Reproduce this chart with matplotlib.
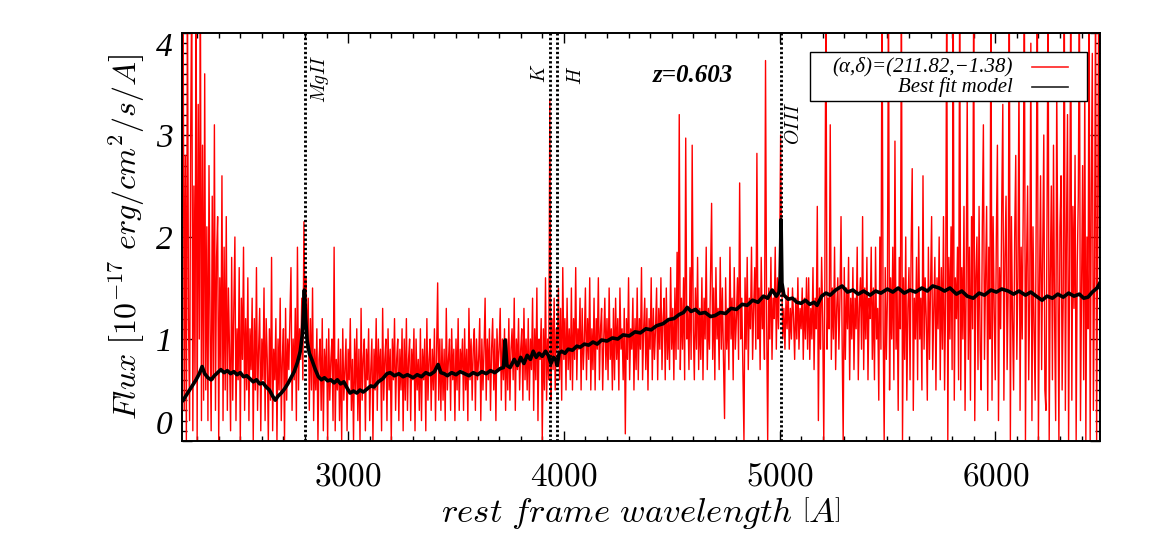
import numpy as np
import matplotlib
matplotlib.use("Agg")
import matplotlib.pyplot as plt
from matplotlib.ticker import MultipleLocator, FuncFormatter
from matplotlib.patches import Rectangle

plt.rcParams['mathtext.fontset'] = 'cm'
plt.rcParams['font.family'] = ['DejaVu Serif']

# espectro observado (rojo), leido de la figura cada 5 A desde 2235 A
# (una fila = 100 A)
flux = [
    4.5, 0.3, 2.8, 0.0, 4.5, 1.2, 0.2, 3.0, 4.5, 0.1, 2.5, 0.6, 4.5, 0.0, 3.3, 1.0, 4.5, 0.2, 2.9, 0.4,
    3.6, 0.5, 2.1, 0.2, 2.7, 1.1, 0.1, 2.4, 0.6, 3.1, 0.3, 1.8, 2.2, 0.0, 1.6, 0.7, 2.6, 0.2, 1.9, 0.5,
    2.2, 0.3, 1.5, 0.9, 0.1, 1.8, 0.4, 1.3, 2.0, 0.2, 1.1, 0.6, 1.7, 0.0, 1.4, 0.8, 1.9, 0.3, 1.2, 0.5,
    1.6, 0.2, 1.1, 0.7, 1.4, 0.0, 1.2, 0.5, 1.7, 0.3, 0.9, 1.3, 0.1, 1.0, 0.6, 1.5, 0.2, 1.2, 0.8, 0.0,
    1.1, 0.4, 1.8, 0.1, 0.9, 0.6, 1.2, 0.0, 1.0, 0.5, 1.4, 0.2, 0.8, 1.1, 0.0, 1.3, 0.4, 1.0, 0.7, 1.2,
    1.7, 0.3, 1.0, 0.6, 1.3, 0.2, 1.9, 0.5, 1.1, 0.8, 1.4, 0.6, 2.15, 1.2, 1.6, 0.9, 1.4, 0.3, 1.2, 0.5,
    1.5, 0.2, 0.9, 0.5, 1.1, 0.0, 0.8, 1.0, 0.3, 1.2, 0.1, 0.9, 0.6, 1.0, 0.0, 1.1, 0.4, 0.8, 1.0, 0.2,
    1.9, 0.1, 0.8, 0.5, 1.0, 0.2, 0.9, 0.0, 1.1, 0.4, 0.7, 1.0, 0.1, 0.9, 0.6, 1.2, 0.3, 0.8, 0.0, 1.0,
    0.5, 1.1, 0.2, 0.9, 0.0, 1.3, 0.4, 0.8, 1.0, 0.1, 0.9, 0.6, 1.1, 0.2, 0.7, 1.0, 0.0, 0.9, 0.5, 1.2,
    0.3, 1.0, 0.6, 0.9, 0.1, 1.3, 0.4, 0.8, 1.0, 0.2, 1.1, 0.5, 0.9, 0.0, 1.0, 0.6, 1.2, 0.3, 0.8, 1.0,
    0.2, 0.9, 0.5, 1.1, 0.1, 1.0, 0.4, 1.2, 0.3, 0.8, 1.0, 0.2, 0.9, 0.6, 1.1, 0.1, 1.0, 0.5, 0.8, 0.3,
    1.1, 0.2, 0.9, 0.6, 1.0, 0.1, 1.2, 0.4, 0.8, 1.0, 0.3, 0.9, 0.5, 1.1, 0.2, 0.9, 1.55, 0.4, 1.0, 0.3,
    1.0, 0.4, 0.9, 0.2, 1.3, 0.5, 0.8, 1.0, 0.3, 1.1, 0.6, 0.9, 0.2, 1.0, 0.5, 1.2, 0.3, 0.9, 0.7, 1.0,
    0.3, 1.1, 0.5, 0.9, 0.2, 1.3, 0.6, 1.0, 0.4, 0.9, 1.1, 0.3, 1.0, 0.6, 0.8, 1.2, 0.2, 1.0, 0.5, 0.9,
    1.4, 0.4, 1.0, 0.6, 1.1, 0.3, 0.9, 1.2, 0.5, 1.0, 0.2, 1.1, 0.7, 0.9, 1.3, 0.4, 1.0, 0.6, 1.1, 0.3,
    1.0, 0.5, 1.2, 0.4, 0.9, 1.1, 0.6, 1.4, 0.3, 1.0, 0.7, 1.2, 0.5, 0.9, 1.1, 0.4, 1.3, 0.6, 1.0, 0.5,
    1.2, 0.4, 1.0, 0.7, 1.4, 0.3, 1.1, 0.6, 1.5, 0.2, 1.0, 0.8, 1.2, 0.0, 1.1, 0.5, 1.6, 0.4, 1.0, 0.6,
    3.35, 0.4, 1.2, 0.7, 1.4, 0.5, 1.1, 0.9, 1.5, 0.6, 1.3, 0.4, 1.7, 0.8, 1.2, 0.5, 1.4, 0.7, 1.1, 0.6,
    1.5, 0.5, 1.2, 0.8, 1.7, 0.6, 1.1, 0.9, 1.4, 0.5, 1.3, 0.7, 1.0, 1.5, 0.6, 1.2, 0.8, 1.6, 0.5, 1.1,
    0.7, 1.4, 0.5, 1.2, 0.9, 1.6, 0.6, 1.1, 1.3, 0.5, 1.0, 1.4, 0.7, 1.2, 0.6, 1.5, 0.8, 1.1, 0.5, 1.3,
    0.6, 1.4, 0.8, 1.2, 0.5, 1.5, 0.9, 1.1, 0.6, 1.3, 0.07, 1.2, 0.8, 1.6, 0.6, 1.1, 0.9, 1.4, 0.5, 1.2,
    0.7, 1.5, 0.6, 1.2, 0.9, 1.7, 0.6, 1.1, 1.4, 0.7, 1.3, 0.5, 1.2, 0.9, 1.6, 0.6, 1.3, 0.8, 1.1, 1.5,
    0.6, 1.3, 0.9, 1.6, 0.7, 1.2, 1.4, 0.6, 1.5, 0.8, 1.2, 0.7, 1.7, 0.9, 1.3, 0.6, 1.5, 0.8, 1.85, 0.9,
    3.2, 0.7, 1.4, 0.9, 1.6, 0.6, 2.97, 1.0, 1.3, 0.7, 1.7, 0.8, 2.9, 1.1, 0.6, 1.5, 0.9, 1.8, 0.7, 1.3,
    0.8, 1.6, 0.6, 1.4, 1.0, 1.9, 0.7, 1.3, 0.9, 1.6, 2.33, 0.8, 1.5, 0.6, 1.7, 1.0, 1.3, 0.7, 1.8, 0.9,
    1.5, 0.8, 0.22, 1.6, 0.9, 1.3, 0.7, 1.9, 1.0, 1.4, 0.6, 1.7, 0.9, 1.2, 1.6, 0.8, 2.53, 1.0, 1.4, 0.7,
    0.0, 1.6, 0.9, 1.8, 0.7, 1.4, 1.1, 1.9, 0.8, 1.3, 1.7, 0.9, 2.82, 1.0, 1.5, 0.7, 1.8, 1.1, 1.4, 0.8,
    3.73, 1.2, 0.0, 1.5, 1.0, 1.8, 0.8, 1.4, 1.2, 1.9, 0.9, 1.6, 1.1, 1.7, 3.0, 1.6, 1.0, 1.3, 0.9, 1.4,
    1.1, 1.5, 0.9, 1.3, 1.0, 1.5, 1.2, 0.8, 1.4, 1.0, 1.6, 0.9, 1.3, 1.1, 1.5, 0.8, 1.4, 1.0, 1.6, 0.9,
    1.6, 0.8, 1.3, 1.0, 1.7, 0.7, 1.4, 1.1, 2.3, 0.2, 1.5, 0.9, 1.8, 1.2, 0.0, 1.6, 4.5, 0.9, 1.4, 1.1,
    3.1, 0.8, 1.5, 1.0, 1.9, 0.7, 1.3, 1.6, 0.9, 1.4, 2.2, 1.0, 0.0, 1.7, 0.8, 1.5, 1.1, 1.8, 0.6, 1.4,
    1.0, 1.7, 0.7, 1.4, 1.1, 1.9, 0.6, 1.3, 1.6, 0.9, 2.2, 0.7, 1.5, 1.0, 1.8, 0.6, 1.4, 1.2, 1.9, 0.8,
    1.5, 0.6, 1.9, 1.0, 1.3, 0.4, 2.0, 0.9, 4.5, 1.2, 0.0, 1.7, 0.8, 1.4, 4.5, 0.5, 1.6, 1.0, 1.9, 0.6,
    2.94, 0.9, 1.5, 0.3, 1.8, 1.1, 4.5, 0.0, 1.6, 0.8, 2.0, 0.4, 1.3, 1.7, 0.6, 1.9, 2.67, 0.3, 1.4, 1.0,
    1.8, 0.6, 2.1, 1.0, 1.4, 0.5, 2.6, 0.9, 1.6, 1.2, 0.4, 1.9, 0.8, 1.5, 2.2, 0.7, 1.3, 1.8, 0.5, 1.6,
    1.1, 2.0, 0.6, 1.7, 0.9, 2.2, 0.5, 1.4, 4.5, 0.0, 1.8, 1.0, 2.1, 0.7, 4.5, 0.4, 1.6, 1.2, 1.9, 0.6,
    4.5, 0.5, 1.7, 1.0, 2.3, 0.3, 1.5, 3.4, 0.8, 1.9, 0.4, 2.2, 1.1, 4.5, 0.2, 1.6, 2.0, 0.7, 2.3, 0.9,
    0.5, 2.1, 3.1, 0.8, 1.6, 2.3, 0.3, 1.9, 1.0, 4.5, 0.4, 2.2, 1.3, 0.6, 2.0, 2.9, 0.2, 1.7, 1.1, 2.3,
    3.3, 0.4, 1.8, 2.4, 0.7, 1.5, 4.5, 0.0, 2.2, 1.2, 0.5, 2.0, 2.8, 0.8, 1.6, 3.6, 0.3, 1.9, 1.0, 2.4,
    4.5, 0.0, 1.7, 2.5, 0.6, 1.4, 3.9, 0.2, 2.1, 1.1, 0.4, 2.3, 4.5, 0.0, 1.5, 2.6, 0.7, 1.9, 3.0, 0.5,
    0.3, 2.2, 4.5, 0.0, 1.6, 2.5, 0.6, 2.9, 1.2, 0.2, 3.5, 1.8, 0.0, 2.1, 2.6, 0.5, 1.4, 4.5, 0.3, 2.0,
    3.2, 0.0, 1.8, 4.5, 0.4, 2.3, 1.3, 2.8, 0.0, 1.7, 2.4, 4.5, 0.2, 1.5, 2.7, 0.6, 3.6, 0.0, 2.0, 1.1,
    4.5, 0.0, 2.4, 3.8, 0.3, 1.6, 4.5, 0.0, 2.2, 4.5, 0.5,
]
wave = 2235 + 5 * np.arange(len(flux))

# modelo de mejor ajuste (negro)
model_wave = [
    2235, 2250, 2265, 2280, 2295, 2310, 2323, 2335, 2350, 2365,
    2380, 2395, 2410, 2425, 2440, 2455, 2470, 2485, 2500, 2515,
    2530, 2545, 2560, 2575, 2590, 2605, 2620, 2635, 2650, 2662,
    2675, 2690, 2705, 2720, 2735, 2750, 2765, 2778, 2788, 2797,
    2803, 2810, 2820, 2833, 2848, 2862, 2876, 2890, 2905, 2920,
    2935, 2950, 2965, 2980, 2995, 3009, 3025, 3040, 3055, 3070,
    3088, 3105, 3120, 3140, 3160, 3180, 3195, 3215, 3235, 3255,
    3275, 3301, 3320, 3340, 3360, 3380, 3400, 3417, 3430, 3445,
    3460, 3480, 3500, 3520, 3540, 3560, 3580, 3600, 3620, 3640,
    3660, 3680, 3705, 3720, 3728, 3736, 3751, 3770, 3785, 3800,
    3815, 3830, 3845, 3858, 3872, 3885, 3900, 3915, 3928, 3940,
    3952, 3962, 3969, 3978, 3990, 4005, 4020, 4040, 4060, 4076,
    4095, 4115, 4135, 4155, 4175, 4200, 4225, 4250, 4275, 4303,
    4330, 4355, 4380, 4405, 4430, 4460, 4485, 4510, 4535, 4555,
    4572, 4590, 4610, 4630, 4655, 4680, 4701, 4725, 4750, 4775,
    4800, 4827, 4850, 4875, 4900, 4925, 4945, 4966, 4985, 4998,
    5003, 5007, 5011, 5020, 5040, 5060, 5080, 5100, 5120, 5140,
    5160, 5174, 5195, 5215, 5235, 5260, 5290, 5315, 5340, 5365,
    5390, 5420, 5445, 5470, 5500, 5525, 5550, 5578, 5605, 5630,
    5660, 5685, 5710, 5740, 5765, 5790, 5820, 5845, 5870, 5898,
    5925, 5950, 5980, 6005, 6030, 6060, 6085, 6110, 6140, 6165,
    6190, 6217, 6240, 6265, 6290, 6315, 6340, 6365, 6390, 6410,
    6430, 6450, 6472, 6485,
]
model_flux = [
    0.40, 0.45, 0.50, 0.55, 0.60, 0.66, 0.73, 0.66, 0.62, 0.60,
    0.64, 0.67, 0.70, 0.67, 0.69, 0.66, 0.68, 0.65, 0.67, 0.63,
    0.64, 0.61, 0.58, 0.60, 0.56, 0.57, 0.53, 0.50, 0.44, 0.40,
    0.44, 0.47, 0.51, 0.56, 0.62, 0.68, 0.77, 0.88, 1.05, 1.48,
    1.20, 0.98, 0.86, 0.79, 0.70, 0.63, 0.60, 0.62, 0.59, 0.60,
    0.57, 0.60, 0.56, 0.58, 0.52, 0.47, 0.49, 0.47, 0.50, 0.48,
    0.51, 0.54, 0.53, 0.58, 0.61, 0.66, 0.67, 0.64, 0.66, 0.63,
    0.65, 0.62, 0.65, 0.63, 0.67, 0.65, 0.68, 0.75, 0.67, 0.66,
    0.64, 0.67, 0.65, 0.68, 0.66, 0.64, 0.67, 0.65, 0.68, 0.66,
    0.69, 0.67, 0.71, 0.72, 0.99, 0.74, 0.72, 0.80, 0.74, 0.82,
    0.76, 0.84, 0.80, 0.88, 0.82, 0.86, 0.83, 0.88, 0.84, 0.76,
    0.82, 0.80, 0.74, 0.86, 0.88, 0.86, 0.90, 0.89, 0.93, 0.92,
    0.95, 0.94, 0.97, 0.95, 0.99, 0.98, 1.01, 1.00, 1.04, 1.03,
    1.07, 1.06, 1.10, 1.09, 1.13, 1.15, 1.19, 1.20, 1.24, 1.26,
    1.31, 1.27, 1.29, 1.25, 1.26, 1.22, 1.23, 1.26, 1.25, 1.30,
    1.29, 1.34, 1.33, 1.38, 1.36, 1.42, 1.40, 1.48, 1.42, 1.46,
    1.60, 2.17, 1.55, 1.43, 1.39, 1.40, 1.36, 1.35, 1.38, 1.34,
    1.36, 1.33, 1.42, 1.45, 1.43, 1.48, 1.52, 1.46, 1.48, 1.44,
    1.47, 1.43, 1.47, 1.45, 1.49, 1.46, 1.50, 1.45, 1.48, 1.46,
    1.50, 1.47, 1.52, 1.50, 1.47, 1.50, 1.44, 1.47, 1.42, 1.40,
    1.45, 1.43, 1.48, 1.46, 1.49, 1.47, 1.44, 1.47, 1.43, 1.46,
    1.42, 1.38, 1.42, 1.40, 1.44, 1.41, 1.45, 1.42, 1.44, 1.40,
    1.41, 1.46, 1.50, 1.55,
]

# lineas espectrales marcadas
line_names = ['MgII', 'K', 'H', 'OIII']
line_waves = [2798, 3934, 3969, 5007]

fig = plt.figure(figsize=(11.5, 5.5), dpi=100)
ax = fig.add_axes([0.1583, 0.1982, 0.7983, 0.7418])

ax.plot(wave, flux, color='#ff0000', lw=1.0)
ax.plot(model_wave, model_flux, color='black', lw=2.6)

for w in line_waves:
    ax.axvline(w, color='black', lw=2.1, linestyle=(0, (0.8, 0.8)))

# etiquetas de las lineas
ax.text(2870, 3.55, r'$MgII$', rotation=90, ha='center', va='center', fontsize=14)
ax.text(3888, 3.6, r'$K$', rotation=90, ha='center', va='center', fontsize=14)
ax.text(4058, 3.58, r'$H$', rotation=90, ha='center', va='center', fontsize=14)
ax.text(5068, 3.12, r'$OIII$', rotation=90, ha='center', va='center', fontsize=14)
ax.text(4600, 3.58, 'z=0.603', ha='center', va='center', fontsize=18,
        family='Liberation Serif', style='italic', weight='bold')

ax.set_xlim(2230, 6486)
ax.set_ylim(0, 4)

ax.xaxis.set_major_locator(MultipleLocator(1000))
ax.xaxis.set_minor_locator(MultipleLocator(100))
ax.yaxis.set_minor_locator(MultipleLocator(0.1))
ax.xaxis.set_major_formatter(FuncFormatter(lambda v, p: r'$%d$' % v))
yt = [0, 1, 2, 3, 4]
ax.set_yticks(yt)
ax.set_yticklabels([str(v) for v in yt], family='Liberation Serif', style='italic',
                   fontsize=24)
ylabs = ax.get_yticklabels()
ylabs[0].set_va('bottom')
ylabs[-1].set_va('top')
ax.tick_params(which='both', direction='in', top=True, right=True)
ax.tick_params(axis='x', labelsize=24, pad=14)
ax.tick_params(axis='y', pad=7)
ax.tick_params(which='major', length=7, width=1)
ax.tick_params(which='minor', length=3.5, width=1)
for s in ax.spines.values():
    s.set_linewidth(1.4)

ax.set_xlabel(r'$rest\ frame\ wavelength\ \left[A\right]$', fontsize=25, labelpad=2)
ax.set_ylabel(r'$Flux\ \left[10^{-17}\ erg/cm^2/s/A\right]$', fontsize=23, labelpad=6)

# leyenda dibujada a mano (texto alineado a la derecha, linea despues)
ax.add_patch(Rectangle((0.684, 0.833), 0.302, 0.120, transform=ax.transAxes,
                       facecolor='white', edgecolor='black', lw=1.0, zorder=5))
leg_labels = ['(\u03b1,\u03b4)=(211.82,\u22121.38)', 'Best fit model']
leg_colors = ['#ff2020', '#222222']
leg_y = [0.917, 0.867]
for lab, col, yy in zip(leg_labels, leg_colors, leg_y):
    ax.text(0.905, yy, lab, transform=ax.transAxes, ha='right', va='center',
            fontsize=15, family='Liberation Serif', style='italic', zorder=6)
    ax.plot([0.926, 0.965], [yy, yy], color=col, lw=1.2, transform=ax.transAxes,
            zorder=6)

fig.savefig('out.png', dpi=100)
